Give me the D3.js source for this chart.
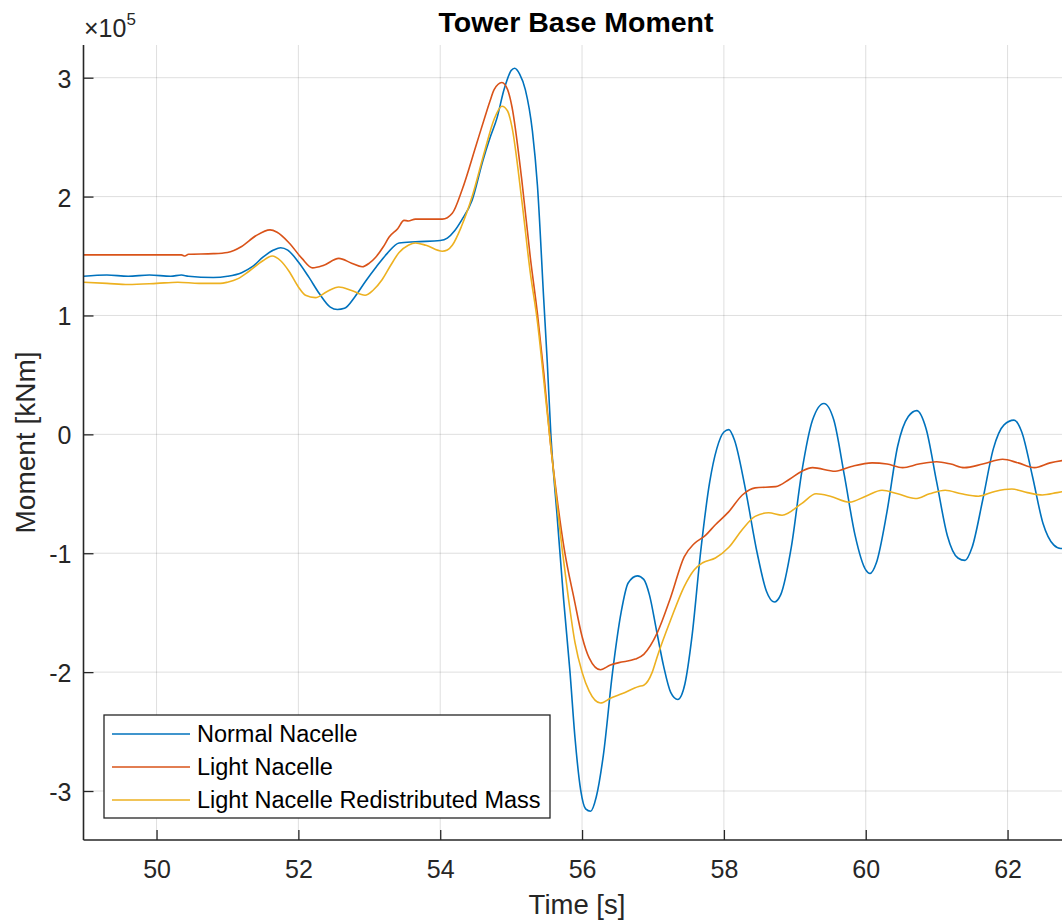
<!DOCTYPE html>
<html>
<head>
<meta charset="utf-8">
<script src="https://cdn.jsdelivr.net/npm/d3@7"></script>
<style>
  html, body { margin: 0; padding: 0; background: #fff; }
  svg { display: block; font-family: "Liberation Sans", Arial, Helvetica, sans-serif; }
</style>
</head>
<body>
<svg id="chart" width="1062" height="921"></svg>
<script>
// Tower base moment time histories, [time in s, moment in 1e5 kNm]
const normalNacelle = [
  [48.97,1.33],[49.3,1.34],[49.6,1.33],[49.9,1.34],[50.2,1.33],[50.35,1.34],[50.45,1.33],[50.8,1.32],
  [51.0,1.33],[51.2,1.36],[51.35,1.41],[51.5,1.49],[51.65,1.55],[51.75,1.57],[51.85,1.55],[52.0,1.45],
  [52.15,1.32],[52.3,1.18],[52.45,1.07],[52.55,1.05],[52.65,1.06],[52.8,1.16],[52.95,1.29],[53.1,1.41],
  [53.25,1.52],[53.42,1.61],[53.65,1.62],[54.0,1.63],[54.1,1.65],[54.2,1.71],[54.3,1.80],[54.45,1.97],
  [54.6,2.30],[54.7,2.49],[54.8,2.66],[54.9,2.90],[55.0,3.06],[55.05,3.08],[55.12,3.03],[55.2,2.90],
  [55.3,2.55],[55.37,2.10],[55.46,1.13],[55.51,0.60],[55.56,0.0],[55.65,-0.70],[55.74,-1.39],[55.83,-2.0],
  [55.9,-2.55],[55.98,-2.99],[56.05,-3.15],[56.12,-3.17],[56.2,-3.05],[56.3,-2.70],[56.43,-2.0],[56.55,-1.5],
  [56.65,-1.25],[56.78,-1.19],[56.87,-1.22],[56.95,-1.35],[57.05,-1.65],[57.15,-1.95],[57.25,-2.17],[57.35,-2.23],
  [57.45,-2.10],[57.55,-1.70],[57.67,-1.0],[57.8,-0.40],[57.9,-0.12],[58.0,0.02],[58.07,0.04],[58.15,-0.05],
  [58.3,-0.45],[58.47,-1.0],[58.6,-1.32],[58.71,-1.41],[58.8,-1.35],[58.95,-0.95],[59.1,-0.31],[59.25,0.12],
  [59.41,0.26],[59.55,0.12],[59.7,-0.35],[59.85,-0.85],[60.0,-1.14],[60.06,-1.17],[60.15,-1.08],[60.3,-0.65],
  [60.45,-0.10],[60.6,0.15],[60.72,0.20],[60.85,0.05],[61.0,-0.40],[61.15,-0.85],[61.3,-1.04],[61.4,-1.06],
  [61.5,-0.95],[61.65,-0.55],[61.8,-0.12],[61.95,0.08],[62.09,0.12],[62.2,0.02],[62.35,-0.35],[62.5,-0.75],
  [62.65,-0.93],[62.75,-0.96],[62.9,-0.95]
];

const lightNacelle = [
  [48.97,1.51],[49.5,1.51],[50.0,1.51],[50.35,1.51],[50.4,1.50],[50.45,1.515],[50.8,1.52],[51.0,1.53],
  [51.2,1.58],[51.4,1.67],[51.6,1.72],[51.7,1.70],[51.87,1.61],[52.05,1.48],[52.2,1.40],[52.35,1.42],
  [52.57,1.48],[52.75,1.44],[52.9,1.41],[53.0,1.44],[53.09,1.49],[53.2,1.58],[53.28,1.66],[53.4,1.73],
  [53.49,1.80],[53.55,1.795],[53.65,1.81],[54.03,1.81],[54.17,1.86],[54.31,2.06],[54.5,2.42],[54.63,2.67],
  [54.7,2.80],[54.76,2.90],[54.87,2.96],[54.95,2.90],[55.01,2.76],[55.15,2.14],[55.27,1.49],[55.37,1.02],
  [55.46,0.52],[55.55,-0.05],[55.65,-0.55],[55.75,-0.97],[55.89,-1.39],[56.0,-1.70],[56.1,-1.88],[56.26,-1.98],
  [56.4,-1.94],[56.52,-1.92],[56.75,-1.89],[56.87,-1.85],[57.06,-1.67],[57.25,-1.37],[57.44,-1.03],[57.58,-0.92],
  [57.74,-0.85],[57.88,-0.76],[58.07,-0.65],[58.26,-0.51],[58.44,-0.45],[58.73,-0.44],[58.92,-0.38],[59.1,-0.31],
  [59.25,-0.28],[59.57,-0.31],[59.8,-0.27],[60.09,-0.24],[60.3,-0.25],[60.52,-0.28],[60.75,-0.25],[61.0,-0.23],
  [61.2,-0.25],[61.39,-0.28],[61.65,-0.25],[61.93,-0.21],[62.15,-0.24],[62.38,-0.28],[62.6,-0.24],[62.9,-0.21]
];

const redistributedMass = [
  [48.97,1.28],[49.3,1.27],[49.6,1.26],[50.0,1.27],[50.3,1.28],[50.6,1.27],[50.9,1.27],[51.0,1.28],
  [51.15,1.31],[51.3,1.37],[51.5,1.46],[51.63,1.50],[51.75,1.46],[51.87,1.37],[52.0,1.24],[52.1,1.17],
  [52.24,1.15],[52.4,1.20],[52.57,1.24],[52.75,1.21],[52.94,1.17],[53.05,1.21],[53.18,1.30],[53.3,1.42],
  [53.42,1.53],[53.55,1.59],[53.65,1.61],[53.8,1.59],[54.03,1.54],[54.1,1.55],[54.17,1.59],[54.3,1.75],
  [54.45,2.0],[54.63,2.39],[54.76,2.65],[54.87,2.76],[54.95,2.72],[55.01,2.59],[55.15,1.97],[55.27,1.36],
  [55.37,0.95],[55.47,0.40],[55.55,-0.05],[55.65,-0.60],[55.72,-0.97],[55.81,-1.39],[55.9,-1.75],[56.0,-2.0],
  [56.1,-2.16],[56.26,-2.26],[56.4,-2.22],[56.57,-2.18],[56.8,-2.12],[56.87,-2.11],[56.99,-2.0],[57.06,-1.87],
  [57.25,-1.56],[57.44,-1.28],[57.58,-1.14],[57.7,-1.08],[57.88,-1.04],[58.07,-0.95],[58.26,-0.80],[58.44,-0.69],
  [58.63,-0.66],[58.82,-0.68],[59.1,-0.58],[59.3,-0.50],[59.5,-0.52],[59.77,-0.57],[60.0,-0.52],[60.23,-0.47],
  [60.45,-0.50],[60.7,-0.54],[60.9,-0.50],[61.12,-0.47],[61.35,-0.50],[61.59,-0.52],[61.82,-0.48],[62.06,-0.46],
  [62.28,-0.49],[62.49,-0.51],[62.7,-0.49],[62.9,-0.47]
];

const seriesNames = ["Normal Nacelle", "Light Nacelle", "Light Nacelle Redistributed Mass"];
const seriesColors = ["#0072BD", "#D95319", "#EDB120"];
const xTicks = [50, 52, 54, 56, 58, 60, 62];
const yTicks = [-3, -2, -1, 0, 1, 2, 3];
const titleText = "Tower Base Moment";
const xLabel = "Time [s]";
const yLabel = "Moment [kNm]";
const yExponent = 5;

const svg = d3.select("#chart");
const axisColor = "#262626";
const fontStack = "'Liberation Sans', Arial, Helvetica, sans-serif";

const x = d3.scaleLinear().domain([48.97, 62.9]).range([83.5, 1071.4]);
const y = d3.scaleLinear().domain([-3.412, 3.275]).range([840, 45]);

const plotLeft = x.range()[0], plotRight = x.range()[1];
const plotTop = y.range()[1], plotBottom = y.range()[0];

svg.append("defs").append("clipPath").attr("id", "plotClip")
  .append("rect").attr("x", plotLeft).attr("y", plotTop)
  .attr("width", plotRight - plotLeft).attr("height", plotBottom - plotTop);

// grid
const grid = svg.append("g").attr("stroke", axisColor).attr("stroke-opacity", 0.15).attr("stroke-width", 1);
grid.selectAll("line.v").data(xTicks).join("line").attr("class", "v")
  .attr("x1", d => x(d)).attr("x2", d => x(d)).attr("y1", plotTop).attr("y2", plotBottom);
grid.selectAll("line.h").data(yTicks).join("line").attr("class", "h")
  .attr("x1", plotLeft).attr("x2", plotRight).attr("y1", d => y(d)).attr("y2", d => y(d));

// data lines
const line = d3.line().x(d => x(d[0])).y(d => y(d[1])).curve(d3.curveMonotoneX);
const allSeries = [normalNacelle, lightNacelle, redistributedMass];
svg.append("g").attr("clip-path", "url(#plotClip)")
  .selectAll("path").data(allSeries).join("path")
  .attr("d", line)
  .attr("fill", "none")
  .attr("stroke", (d, i) => seriesColors[i])
  .attr("stroke-width", 1.6)
  .attr("stroke-linejoin", "round");

// axes (ticks point inward, plain hyphen minus signs)
const plainNumber = d => String(d);
const xAxis = d3.axisBottom(x).tickValues(xTicks).tickSizeInner(-10).tickSizeOuter(0).tickPadding(20).tickFormat(plainNumber);
const gx = svg.append("g").attr("transform", `translate(0,${plotBottom})`).call(xAxis);
const yAxis = d3.axisLeft(y).tickValues(yTicks).tickSizeInner(-10).tickSizeOuter(0).tickPadding(12).tickFormat(plainNumber);
const gy = svg.append("g").attr("transform", `translate(${plotLeft},0)`).call(yAxis);

[gx, gy].forEach(g => {
  g.attr("font-family", fontStack);
  g.select(".domain").attr("stroke", axisColor).attr("stroke-width", 1.6);
  g.selectAll(".tick line").attr("stroke", axisColor).attr("stroke-width", 1.3);
  g.selectAll(".tick text").attr("fill", axisColor).attr("font-size", 25);
});
gx.selectAll(".tick text").attr("dy", "0.71em");
gy.selectAll(".tick text").attr("dy", "0.38em");
gx.select(".domain").attr("d", `M${plotLeft},0H${plotRight}`);
gy.select(".domain").attr("d", `M0,${plotTop}V${plotBottom}`);

// exponent label
const expo = svg.append("text").attr("x", 84).attr("y", 37).attr("fill", axisColor).attr("font-size", 25);
expo.append("tspan").text("\u00d710");
expo.append("tspan").attr("font-size", 17).attr("dy", -12).text(yExponent);

// title and axis labels
svg.append("text").attr("x", 576).attr("y", 31.5).attr("text-anchor", "middle")
  .attr("font-size", 28.5).attr("font-weight", "bold").attr("fill", "#000").text(titleText);
svg.append("text").attr("x", 577).attr("y", 914).attr("text-anchor", "middle")
  .attr("font-size", 27.5).attr("fill", axisColor).text(xLabel);
svg.append("text").attr("transform", `translate(35,${(plotTop + plotBottom) / 2}) rotate(-90)`)
  .attr("text-anchor", "middle").attr("font-size", 28).attr("fill", axisColor).text(yLabel);

// legend
const legend = svg.append("g");
legend.append("rect").attr("x", 104).attr("y", 715).attr("width", 446).attr("height", 103)
  .attr("fill", "#fff").attr("stroke", axisColor).attr("stroke-width", 1.3);
const rows = legend.selectAll("g.row").data(seriesNames).join("g").attr("class", "row")
  .attr("transform", (d, i) => `translate(0,${734 + i * 33})`);
rows.append("line").attr("x1", 112).attr("x2", 190).attr("y1", 0).attr("y2", 0)
  .attr("stroke", (d, i) => seriesColors[i]).attr("stroke-width", 1.6);
rows.append("text").attr("x", 197).attr("y", 0).attr("dy", "0.36em")
  .attr("font-size", 23.5).attr("fill", "#000").text(d => d);
</script>
</body>
</html>
